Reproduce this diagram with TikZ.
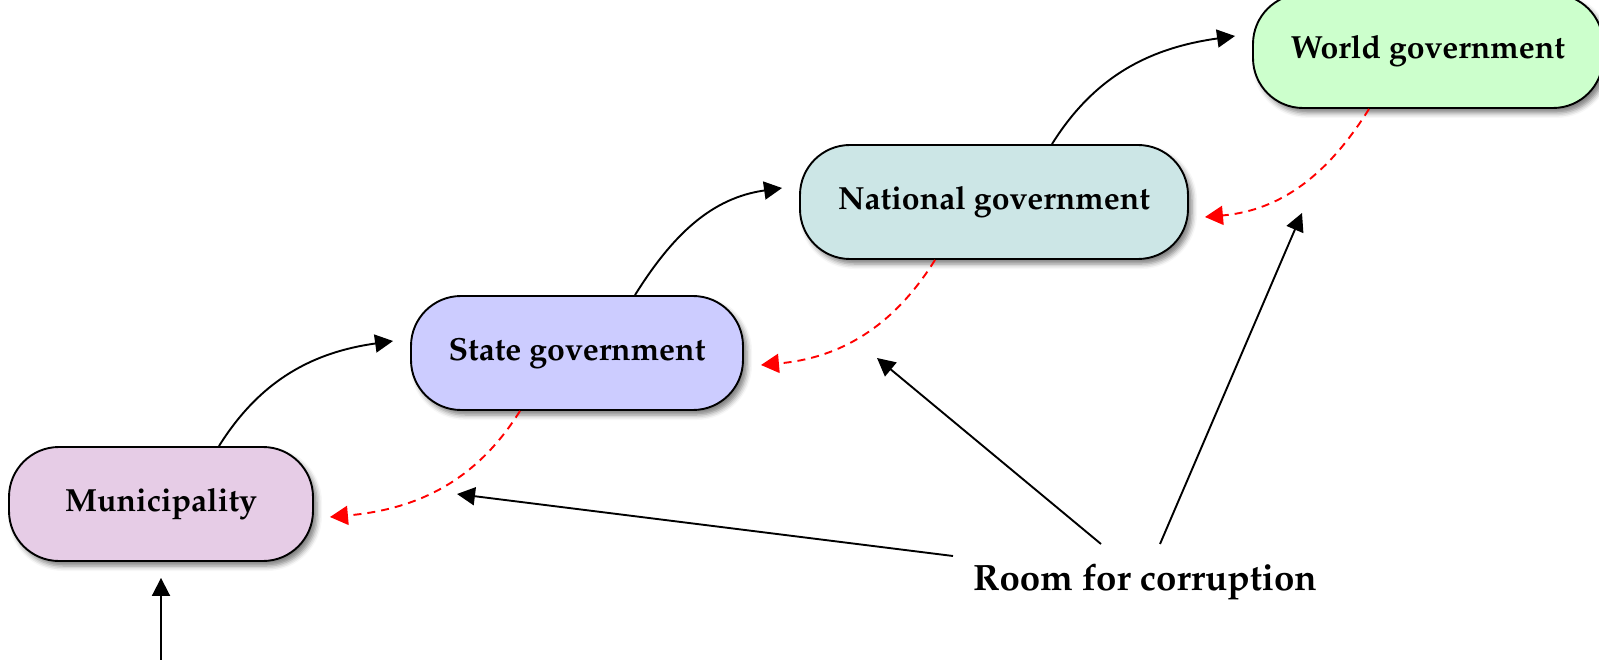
\documentclass[tikz,border=0pt]{standalone}
\usepackage[T1]{fontenc}
\renewcommand{\rmdefault}{ppl}
\usetikzlibrary{arrows.meta,calc,shadows.blur}

\definecolor{muniFill}{RGB}{230,204,230}
\definecolor{stateFill}{RGB}{204,204,255}
\definecolor{natFill}{RGB}{204,230,230}
\definecolor{worldFill}{RGB}{204,255,204}

\tikzset{
  level/.style={draw=black, line width=1.9pt, rounded corners=50pt,
    minimum height=114pt, inner sep=0pt,
    font=\fontsize{32}{38}\selectfont\bfseries,
    blur shadow={shadow xshift=4pt, shadow yshift=-5pt,
      shadow blur radius=5pt, shadow opacity=50}},
  climb/.style={draw=black, line width=1.9pt,
    -{Triangle[length=18pt,width=18pt]}},
  descend/.style={draw=red, line width=1.9pt, dash pattern=on 8pt off 6pt,
    -{Triangle[length=18pt,width=19pt]}},
  pointer/.style={draw=black, line width=1.9pt,
    -{Triangle[length=18pt,width=18pt]}}
}

\begin{document}
\begin{tikzpicture}[x=1pt, y=-1pt]
  \useasboundingbox (0,0) rectangle (1599,660);
  \clip (0,0) rectangle (1599,660);

  % government levels
  \node[level, fill=muniFill,  minimum width=304pt] (muni)  at (161,504) {Municipality};
  \node[level, fill=stateFill, minimum width=332pt] (state) at (577,353) {State government};
  \node[level, fill=natFill,   minimum width=388pt] (nat)   at (994,202) {National government};
  \node[level, fill=worldFill, minimum width=350pt] (world) at (1428,51) {World government};

  \node[font=\fontsize{36.6}{42}\selectfont\bfseries, inner sep=0pt] (room) at (1145,582) {Room for corruption};

  % delegation upwards
  \draw[climb] ($(muni.north)+(58,0)$)  to[out=58, in=188] ($(state.west)+(-17,-12)$);
  \draw[climb] ($(state.north)+(58,0)$) to[out=58, in=188] ($(nat.west)+(-17,-14)$);
  \draw[climb] ($(nat.north)+(58,0)$)   to[out=58, in=188] ($(world.west)+(-17,-15)$);

  % feedback downwards
  \draw[descend] ($(state.south)+(-57,0)$) to[out=238, in=5] ($(muni.east)+(16,13)$);
  \draw[descend] ($(nat.south)+(-59,0)$)   to[out=238, in=5] ($(state.east)+(17,12)$);
  \draw[descend] ($(world.south)+(-59,0)$) to[out=238, in=5] ($(nat.east)+(16,15)$);

  % input from below
  \coordinate (citizens) at (161,672);
  \draw[pointer] (citizens) -- ($(muni.south)+(0,16)$);

  % corruption targets
  \coordinate (gapA) at (457,494);
  \coordinate (gapB) at (877,358);
  \coordinate (gapC) at (1302,213);
  \draw[pointer] ($(room.center)+(-192,-26)$) -- (gapA);
  \draw[pointer] ($(room.center)+(-44,-38)$)  -- (gapB);
  \draw[pointer] ($(room.center)+(15,-38)$)   -- (gapC);
\end{tikzpicture}
\end{document}
